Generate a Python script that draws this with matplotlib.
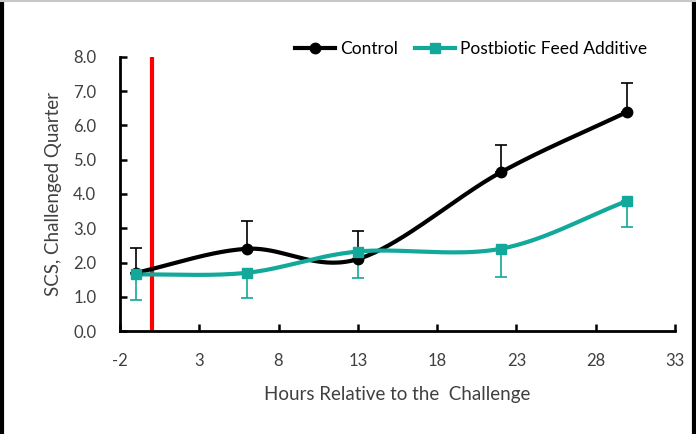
import numpy as np
import matplotlib.pyplot as plt
from matplotlib.lines import Line2D

hours = [-1, 6, 13, 22, 30]
control = [1.7, 2.4, 2.1, 4.63, 6.4]
control_err = [0.73, 0.8, 0.82, 0.8, 0.85]
postbiotic = [1.65, 1.7, 2.32, 2.4, 3.8]
postbiotic_err = [0.75, 0.75, 0.77, 0.82, 0.76]
challenge_hour = 0
xticks = [-2, 3, 8, 13, 18, 23, 28, 33]
yticks = [0, 1, 2, 3, 4, 5, 6, 7, 8]

BLACK = '#000000'
TEAL = '#12a89a'
TXT = '#404040'


def smooth(x, y, n=40):
    # catmull-rom, roughly what excel's "smoothed line" does
    x = np.asarray(x, float)
    y = np.asarray(y, float)
    px = np.concatenate([[2 * x[0] - x[1]], x, [2 * x[-1] - x[-2]]])
    py = np.concatenate([[2 * y[0] - y[1]], y, [2 * y[-1] - y[-2]]])
    xs, ys = [], []
    t = np.linspace(0, 1, n)
    for i in range(1, len(px) - 2):
        for p, out in ((px, xs), (py, ys)):
            p0, p1, p2, p3 = p[i - 1], p[i], p[i + 1], p[i + 2]
            out.extend(0.5 * ((2 * p1) + (-p0 + p2) * t
                              + (2 * p0 - 5 * p1 + 4 * p2 - p3) * t ** 2
                              + (-p0 + 3 * p1 - 3 * p2 + p3) * t ** 3))
    return xs, ys


plt.rcParams['font.family'] = ['Lato', 'DejaVu Sans']
plt.rcParams['axes.unicode_minus'] = False
fig = plt.figure(figsize=(6.96, 4.34), dpi=100)
ax = fig.add_axes([0.1724, 0.2373, 0.7974, 0.6314])

ax.axvline(challenge_hour, color='#ff0000', lw=3, zorder=1)

# error bars: control upper only, postbiotic lower only
ax.errorbar(hours, control, yerr=[np.zeros(len(hours)), control_err], fmt='none',
            ecolor=BLACK, elinewidth=1.2, capsize=4, capthick=1.2, zorder=2)
ax.errorbar(hours, postbiotic, yerr=[postbiotic_err, np.zeros(len(hours))], fmt='none',
            ecolor=TEAL, elinewidth=1.2, capsize=4, capthick=1.2, zorder=2)

sx, sy = smooth(hours, control)
ax.plot(sx, sy, color=BLACK, lw=3, zorder=3)
ax.plot(hours, control, 'o', color=BLACK, ms=7.5, zorder=4)
sx, sy = smooth(hours, postbiotic)
ax.plot(sx, sy, color=TEAL, lw=3, zorder=3)
ax.plot(hours, postbiotic, 's', color=TEAL, ms=7.5, zorder=4)

ax.set_xlim(xticks[0], xticks[-1])
ax.set_ylim(yticks[0], yticks[-1])
ax.set_xticks(xticks)
ax.set_yticks(yticks)
ax.set_yticklabels(['%.1f' % v for v in yticks])
for s in ['top', 'right']:
    ax.spines[s].set_visible(False)
for s in ['left', 'bottom']:
    ax.spines[s].set_linewidth(2)
ax.tick_params(direction='in', length=5, width=1.8, colors=BLACK,
               labelcolor=TXT, labelsize=12)
ax.tick_params(axis='x', pad=16)
ax.tick_params(axis='y', pad=17)
ax.set_xlabel('Hours Relative to the  Challenge', color=TXT, fontsize=13.5, labelpad=12)
ax.set_ylabel('SCS, Challenged Quarter', color=TXT, fontsize=13.5, labelpad=8)

handles = [Line2D([], [], color=BLACK, lw=3, marker='o', ms=7.5),
           Line2D([], [], color=TEAL, lw=3, marker='s', ms=7.5)]
fig.legend(handles, ['Control', 'Postbiotic Feed Additive'], loc='center',
           bbox_to_anchor=(0.677, 0.887), ncol=2, frameon=False, fontsize=12.5,
           handlelength=2.3, handletextpad=0.3, columnspacing=1.0, labelcolor=BLACK)

# screenshot border
fig.add_artist(Line2D([0.003, 0.003], [0, 1], color='black', lw=3, transform=fig.transFigure))
fig.add_artist(Line2D([0.997, 0.997], [0, 1], color='black', lw=3, transform=fig.transFigure))
fig.add_artist(Line2D([0, 1], [0.998, 0.998], color='#c8c8c8', lw=1.5, transform=fig.transFigure))

fig.savefig('out.png', dpi=100)
